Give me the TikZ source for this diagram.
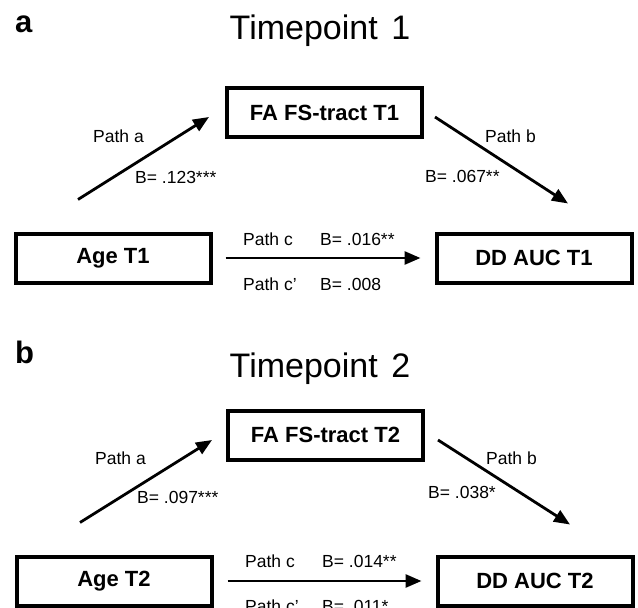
\documentclass[tikz,border=0pt]{standalone}
\usepackage{fontspec}
\setmainfont{Liberation Sans}
\usetikzlibrary{arrows.meta,calc}
\tikzset{
	varbox/.style={draw, line width=4pt, minimum width=195pt, minimum height=49pt, inner sep=0pt, font=\fontsize{22}{26}\selectfont\bfseries},
	pathlbl/.style={inner sep=0pt, anchor=base west, font=\fontsize{17.5}{20}\selectfont},
	patharrow/.style={line width=2.8pt, -{Triangle[length=16pt,width=13pt]}},
	ttl/.style={inner sep=0pt, anchor=base, font=\fontsize{34}{40}\selectfont},
	panel/.style={inner sep=0pt, anchor=base west, font=\fontsize{31}{36}\selectfont\bfseries}
}

\begin{document}
\begin{tikzpicture}[x=1pt,y=-1pt]
		%%%%% START %%%%%
		\useasboundingbox (0,0) rectangle (638,608);
		
		%%%%% PANEL a %%%%%
		\node[panel] (lblA) at (15,32) {a};
		\node[ttl] (ttlA) at (320,39) {Timepoint\hspace{0.4em}1};
		
		\node[varbox] (faA) at (324.5,112.5) {FA FS-tract T1};
		\node[varbox] (ageA) at (113,258) {Age T1};
		\node[varbox] (ddA) at (534,258) {DD AUC T1};
		
		\coordinate (aA) at ($(ageA.north)+(-35,-32)$);
		\coordinate (bA) at ($(ddA.north)+(34,-28)$);
		\draw[patharrow] (aA) -- ($(faA.west)+(-16,4.5)$);
		\draw[patharrow] ($(faA.east)+(11,4.5)$) -- (bA);
		\draw[patharrow, shorten <=13pt, shorten >=14pt] (ageA) -- (ddA);
		
		\node[pathlbl] (paA) at (93,142) {Path a};
		\node[pathlbl] (baA) at (135,183) {B= .123***};
		\node[pathlbl] (pbA) at (485,142) {Path b};
		\node[pathlbl] (bbA) at (425,182) {B= .067**};
		\node[pathlbl] (pcA) at (243,245) {\makebox[77pt][l]{Path c}B= .016**};
		\node[pathlbl] (pdA) at (243,290) {\makebox[77pt][l]{Path c’}B= .008};
		
		%%%%% PANEL b %%%%%
		\node[panel] (lblB) at (15,363) {b};
		\node[ttl] (ttlB) at (320,377) {Timepoint\hspace{0.4em}2};
		
		\node[varbox] (faB) at (325.5,435) {FA FS-tract T2};
		\node[varbox] (ageB) at (114,581) {Age T2};
		\node[varbox] (ddB) at (535,581) {DD AUC T2};
		
		\coordinate (aB) at ($(ageB.north)+(-34,-32)$);
		\coordinate (bB) at ($(ddB.north)+(35,-30)$);
		\draw[patharrow] (aB) -- ($(faB.west)+(-14,5)$);
		\draw[patharrow] ($(faB.east)+(13,5)$) -- (bB);
		\draw[patharrow, shorten <=14pt, shorten >=14pt] (ageB) -- (ddB);
		
		\node[pathlbl] (paB) at (95,464) {Path a};
		\node[pathlbl] (baB) at (137,503) {B= .097***};
		\node[pathlbl] (pbB) at (486,464) {Path b};
		\node[pathlbl] (bbB) at (428,498) {B= .038*};
		\node[pathlbl] (pcB) at (245,567) {\makebox[77pt][l]{Path c}B= .014**};
		\node[pathlbl] (pdB) at (245,612) {\makebox[77pt][l]{Path c’}B= .011*};
		
		%%%%% END %%%%%
\end{tikzpicture}
\end{document}
